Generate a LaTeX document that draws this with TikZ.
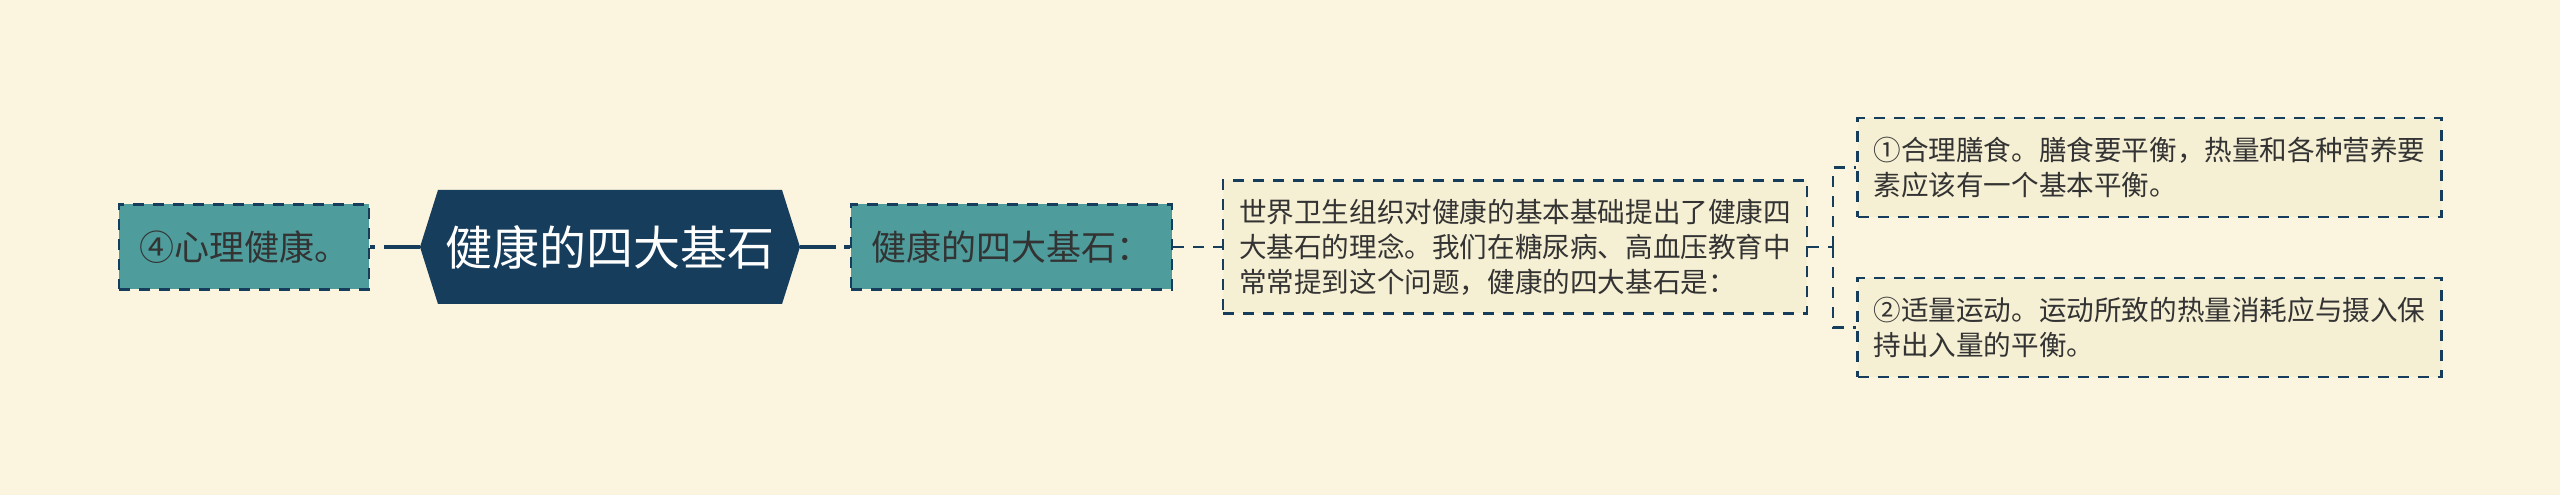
\documentclass[tikz,border=0pt]{standalone}
\usepackage{fontspec}
\setmainfont{Noto Sans CJK SC}
\usetikzlibrary{shapes.symbols}
\definecolor{bg}{HTML}{FBF5E0}
\definecolor{teal}{HTML}{4E9C9C}
\definecolor{navy}{HTML}{173D5C}
\definecolor{cream}{HTML}{F5EFD3}
\definecolor{txt}{HTML}{333333}
\tikzset{
  dashbox/.style={draw=navy, line width=2.8pt, dash pattern=on 11pt off 9pt, inner xsep=16pt, inner ysep=0pt},
  tealbox/.style={dashbox, fill=teal, text=txt, font=\fontsize{35}{42}\selectfont, minimum height=85pt},
  notebox/.style={dashbox, fill=cream, text=txt, font=\fontsize{27.6}{35}\selectfont, align=left, text width=552pt},
  rootbox/.style={signal, signal to=west and east, signal pointer angle=145, fill=navy, text=white, font=\fontsize{47}{55}\selectfont, minimum width=380pt, minimum height=114pt, inner sep=0pt},
  solidlink/.style={draw=navy, line width=4pt},
  dashlink/.style={draw=navy, line width=2.8pt, dash pattern=on 11pt off 9pt},
}
\begin{document}
\begin{tikzpicture}[x=1pt,y=1pt]
\fill[bg] (0,0) rectangle (2560,495);
\useasboundingbox (0,0) rectangle (2560,495);
\node[rootbox] (root) at (610,248) {健康的四大基石};
\node[tealbox, minimum width=250pt] (left) at (244,248) {④心理健康。};
\node[tealbox, minimum width=321pt] (n2) at (1011.5,248) {健康的四大基石：};
\node[notebox, minimum width=584pt, minimum height=133pt] (big) at (1515,248) {世界卫生组织对健康的基本基础提出了健康四\\大基石的理念。我们在糖尿病、高血压教育中\\常常提到这个问题，健康的四大基石是：};
\node[notebox, minimum width=583pt, minimum height=99pt] (c1) at (2149.5,327.5) {①合理膳食。膳食要平衡，热量和各种营养要\\素应该有一个基本平衡。};
\node[notebox, minimum width=583pt, minimum height=99pt] (c2) at (2149.5,167.5) {②适量运动。运动所致的热量消耗应与摄入保\\持出入量的平衡。};
\coordinate (br) at (1833,248);
\draw[solidlink, dash pattern=on 5pt off 9pt on 60pt] (left.east) -- (root.west);
\draw[solidlink, dash pattern=on 36pt off 8pt on 10pt] (root.east) -- (n2.west);
\draw[dashlink] (n2.east) -- (big.west);
\draw[dashlink] (big.east) -- (br);
\draw[dashlink] (br) |- (c1.west);
\draw[dashlink] (br) |- (c2.west);
\end{tikzpicture}
\end{document}
